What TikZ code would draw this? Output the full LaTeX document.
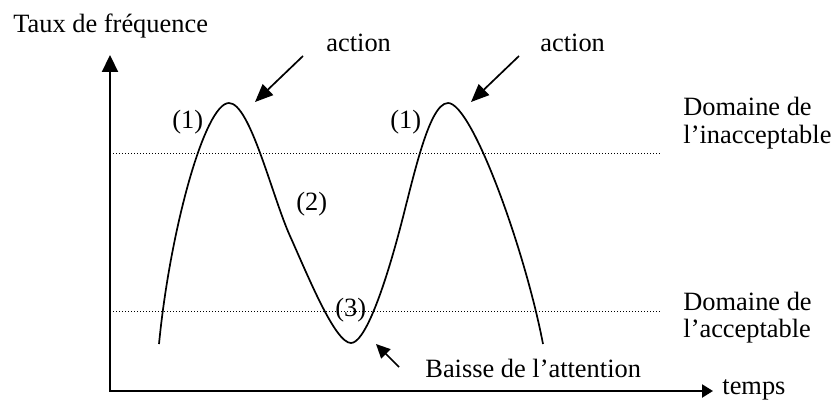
\documentclass[tikz,border=0pt]{standalone}
\usepackage{fontspec}
\setmainfont{Liberation Serif}
\usetikzlibrary{arrows.meta, positioning, calc}

\begin{document}
\begin{tikzpicture}[
    x=0.5pt, y=-0.5pt,
    font=\fontsize{13.2}{13.8}\selectfont,
    axe/.style={line width=1.1pt},
    seuil/.style={line width=0.5pt, dash pattern=on 0.5pt off 1pt},
    courbe/.style={line width=0.85pt},
    fleche/.style={line width=0.85pt, -{Triangle[length=9pt, width=7.5pt]}},
    texte/.style={inner sep=0pt, anchor=base west}
  ]
  \useasboundingbox (0,0) rectangle (834,401);

  % axes
  \coordinate (haut) at (110,55);
  \coordinate (origine) at (110,391);
  \coordinate (droite) at (713,391);
  \draw[axe, {Triangle[length=8.5pt, width=8pt]}-{Triangle[length=5.5pt, width=6.5pt]}]
    (haut) -- (origine) -- (droite);
  \node[texte] (ordonnee) at (13,33) {Taux de fréquence};
  \node[texte] (temps) at (722,394) {temps};

  % seuils
  \coordinate (inaccG) at (113,153);
  \coordinate (inaccD) at (660,153);
  \coordinate (accG) at (113,311);
  \coordinate (accD) at (660,311);
  \draw[seuil] (inaccG) -- (inaccD);
  \draw[seuil] (accG) -- (accD);
  \node[texte] (inacc) at (683,115) {Domaine de};
  \node[texte] (inacc2) at (683,143) {l’inacceptable};
  \node[texte] (acc) at (683,310) {Domaine de};
  \node[texte] (acc2) at (683,337) {l’acceptable};

  % courbe
  \coordinate (pic1) at (229,103);
  \coordinate (creux) at (351,343);
  \coordinate (pic2) at (448,103);
  \draw[courbe] (159,344) .. controls (170,230) and (205,103) .. (pic1)
    .. controls (250,103) and (272,196) .. (290,236)
    .. controls (308,276) and (335,343) .. (creux)
    .. controls (364,343) and (382,295) .. (398,236)
    .. controls (412,185) and (428,103) .. (pic2)
    .. controls (472,103) and (525,250) .. (543,344);
  \node[texte] (un1) at (172,128) {(1)};
  \node[texte] (un2) at (390,128) {(1)};
  \node[texte] (deux) at (296,210) {(2)};
  \node[texte] (trois) at (335,316) {(3)};

  % actions
  \node[texte] (action1) at (326,52) {action};
  \node[texte] (action2) at (540,52) {action};
  \node[texte] (baisse) at (425,377) {Baisse de l’attention};
  \coordinate (depart1) at (303,56);
  \coordinate (pointe1) at (255,102);
  \coordinate (depart2) at (519,56);
  \coordinate (pointe2) at (471,102);
  \coordinate (depart3) at (399,367);
  \coordinate (pointe3) at (376,344);
  \draw[fleche] (depart1) -- (pointe1);
  \draw[fleche] (depart2) -- (pointe2);
  \draw[fleche, -{Triangle[length=7pt, width=6.5pt]}] (depart3) -- (pointe3);
\end{tikzpicture}
\end{document}
